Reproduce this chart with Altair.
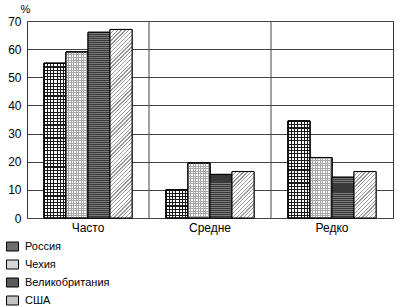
import altair as alt
import pandas as pd

categories = ["Часто", "Средне", "Редко"]
countries = ["Россия", "Чехия", "Великобритания", "США"]
russia = [55, 10, 34.5]
czech = [59, 19.5, 21.5]
uk = [66, 15.5, 14.5]
usa = [67, 16.5, 16.5]
greys = ["#6e6e6e", "#d6d6d6", "#5a5a5a", "#c4c4c4"]

rows = []
for s, vals in zip(countries, [russia, czech, uk, usa]):
    for c, v in zip(categories, vals):
        rows.append({"cat": c, "country": s, "value": v})
df = pd.DataFrame(rows)
sep = pd.DataFrame({"cat": categories[1:]})

FONT = "Liberation Sans"
W, H = 366, 197
YMAX = 70
BAR_W = W / 3 / 5.54

xscale = alt.Scale(domain=categories, paddingInner=0, paddingOuter=0)
yscale = alt.Scale(domain=[0, YMAX], nice=False)
offscale = alt.Scale(domain=countries, paddingInner=0, paddingOuter=0.77)

xaxis = alt.Axis(title=None, labelAngle=0, ticks=False, domain=False,
                 labelFontSize=12, labelPadding=4, labelColor="black",
                 labelFont=FONT, grid=False)
yaxis = alt.Axis(values=list(range(0, 71, 10)), title="%", titleAngle=0,
                 titleX=-2, titleY=-7, titleAlign="center", titleBaseline="bottom",
                 titleFontSize=11, titleFontWeight="normal", titleFont=FONT,
                 titleColor="black",
                 ticks=False, domain=False, grid=True, gridColor="#444",
                 gridWidth=1, labelFontSize=12, labelPadding=6,
                 labelColor="black", labelFont=FONT)

X = alt.X("cat:N", scale=xscale, sort=categories, axis=xaxis)
XO = alt.XOffset("country:N", sort=countries, scale=offscale)
Y = alt.Y("value:Q", scale=yscale, axis=yaxis)


def stripes(n, line, bg, frac, x2, y2):
    n = max(1, int(round(n)))
    stops = []
    for i in range(n):
        a = i / n
        b = (i + frac) / n
        e = (i + 1) / n
        stops += [
            {"offset": a, "color": line},
            {"offset": b, "color": line},
            {"offset": b, "color": bg},
            {"offset": e, "color": bg},
        ]
    return {"gradient": "linear", "x1": 0, "y1": 0, "x2": x2, "y2": y2, "stops": stops}


def diag(w, h, period, line, bg, frac):
    c = (w + h) / (w * w + h * h)
    n = (w + h) / (period * 1.414)
    return stripes(n, line, bg, frac, c * w, c * h)


bars = alt.Chart(df).mark_bar(stroke="black", strokeWidth=1).encode(
    x=X, xOffset=XO, y=Y,
    fill=alt.Fill("country:N", sort=countries,
                  scale=alt.Scale(domain=countries, range=greys),
                  legend=alt.Legend(title=None, orient="none", legendX=-21, legendY=219,
                                    symbolType="M-1,-0.75H1V0.75H-1Z", symbolSize=144,
                                    symbolStrokeColor="black", symbolStrokeWidth=1,
                                    labelFontSize=11, labelFont=FONT, labelColor="black",
                                    labelOffset=6, rowPadding=5, padding=0)),
)

layers = [bars]
series = {"Россия": russia, "Чехия": czech, "Великобритания": uk, "США": usa}
for country, vals in series.items():
    for cat, v in zip(categories, vals):
        h = v * H / YMAX
        flt = (alt.datum.cat == cat) & (alt.datum.country == country)
        if country == "Россия":
            g1 = stripes(h / 3.2, "#1a1a1a", "#ffffff", 0.35, 0, 1)
            g2 = stripes(BAR_W / 3.2, "#1a1a1a", "rgba(255,255,255,0)", 0.35, 1, 0)
            grads = [g1, g2]
        elif country == "Чехия":
            g1 = stripes(h / 2.5, "#a8a8a8", "#ffffff", 0.4, 0, 1)
            g2 = stripes(BAR_W / 2.5, "#a8a8a8", "rgba(255,255,255,0)", 0.4, 1, 0)
            grads = [g1, g2]
        elif country == "Великобритания":
            grads = [stripes(h / 2.0, "#3a3a3a", "#7a7a7a", 0.6, 0, 1)]
        else:
            grads = [diag(BAR_W, h, 2.7, "#999999", "#ffffff", 0.35)]
        for gr in grads:
            layers.append(
                alt.Chart(df).transform_filter(flt)
                .mark_bar(fill=gr, stroke="black", strokeWidth=1)
                .encode(x=X, xOffset=XO, y=Y)
            )

rules = alt.Chart(sep).mark_rule(color="#444", strokeWidth=1).encode(
    x=alt.X("cat:N", bandPosition=0, sort=categories, scale=xscale, axis=xaxis)
)
layers.append(rules)

chart = alt.layer(*layers).properties(
    width=W, height=H,
    autosize=alt.AutoSizeParams(type="none"),
    padding={"left": 27, "top": 21, "right": 7, "bottom": 89},
    background="white",
).configure_view(stroke="#333", strokeWidth=1)

chart.save("out.html", embed_options={"renderer": "svg", "actions": False})
